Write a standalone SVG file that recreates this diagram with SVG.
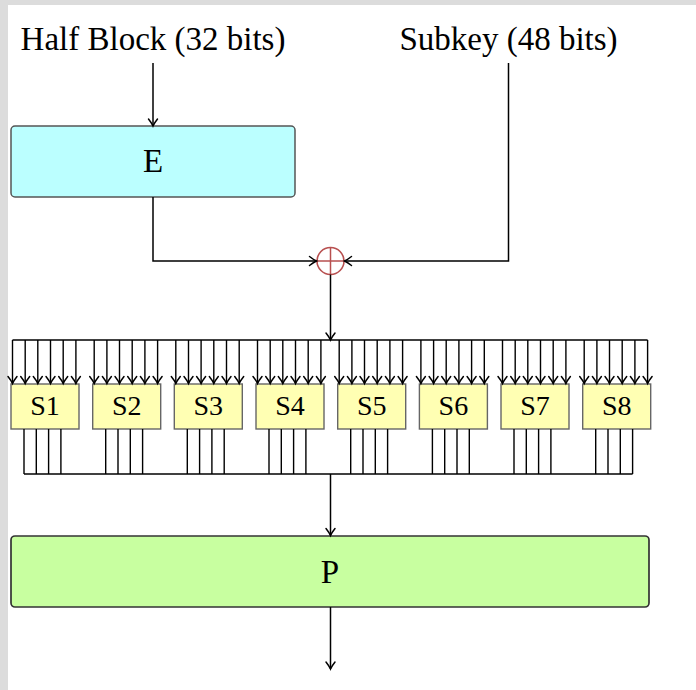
<svg xmlns="http://www.w3.org/2000/svg" width="696" height="690" viewBox="0 0 696 690">
<defs>
<style>
.t{font-family:"Liberation Serif","Times New Roman",serif;fill:#000;text-anchor:middle}
.big{font-size:33px}
.sm{font-size:28px}
.b{stroke:#000;stroke-width:1.4;fill:none}
.a{stroke:#000;stroke-width:1.4;fill:none;marker-end:url(#ah)}
.A{stroke:#000;stroke-width:1.5;fill:none;marker-end:url(#ah)}
.sbox{fill:#ffffb3;stroke:#666;stroke-width:1.4}
</style>
<marker id="ah" markerUnits="userSpaceOnUse" markerWidth="14" markerHeight="14" viewBox="-9 -7 11 14" refX="0" refY="0" orient="auto">
<path d="M-7,-4.5 Q-2.8,-1.2 0,0 Q-2.8,1.2 -7,4.5" fill="none" stroke="#000" stroke-width="1.5" stroke-linecap="round"/>
</marker>
</defs>
<rect x="0" y="0" width="696" height="690" fill="#dcdcdc"/>
<rect x="8" y="5" width="688" height="685" fill="#fff"/>

<g id="label-half-block"><text class="t big" x="153" y="50">Half Block (32 bits)</text></g>
<g id="label-subkey"><text class="t big" x="508.5" y="50">Subkey (48 bits)</text></g>

<g id="E"><rect x="11" y="126" width="284" height="71" rx="4" fill="#bbffff" stroke="#555" stroke-width="1.5"/><text class="t big" x="153" y="172">E</text></g>

<g id="xor"><circle cx="330.5" cy="261" r="13.5" fill="#fff" stroke="#b85050" stroke-width="1.6"/><path d="M317,261H344M330.5,247.5V274.5" stroke="#b85050" stroke-width="1.5"/></g>

<g id="S1"><rect class="sbox" x="11" y="384" width="68" height="45"/><text class="t sm" x="45" y="414.5">S1</text></g>
<g id="S2"><rect class="sbox" x="92.7" y="384" width="68" height="45"/><text class="t sm" x="126.7" y="414.5">S2</text></g>
<g id="S3"><rect class="sbox" x="174.3" y="384" width="68" height="45"/><text class="t sm" x="208.3" y="414.5">S3</text></g>
<g id="S4"><rect class="sbox" x="256" y="384" width="68" height="45"/><text class="t sm" x="290" y="414.5">S4</text></g>
<g id="S5"><rect class="sbox" x="337.7" y="384" width="68" height="45"/><text class="t sm" x="371.7" y="414.5">S5</text></g>
<g id="S6"><rect class="sbox" x="419.4" y="384" width="68" height="45"/><text class="t sm" x="453.4" y="414.5">S6</text></g>
<g id="S7"><rect class="sbox" x="501" y="384" width="68" height="45"/><text class="t sm" x="535" y="414.5">S7</text></g>
<g id="S8"><rect class="sbox" x="582.7" y="384" width="68" height="45"/><text class="t sm" x="616.7" y="414.5">S8</text></g>

<g id="P"><rect x="11" y="536" width="638" height="71" rx="4" fill="#c8ffa0" stroke="#333" stroke-width="1.7"/><text class="t big" x="330" y="583">P</text></g>

<g id="connectors">
<path class="A" d="M153,63V126"/>
<path class="A" d="M153,197V261H316.5"/>
<path class="A" d="M508.5,63V261H344.5"/>
<path class="A" d="M330.5,274.5V340"/>
<path class="b" d="M12.5,340H647.6"/>
<line class="a" x1="12.5" y1="340" x2="12.5" y2="383.5"/><line class="a" x1="25.2" y1="340" x2="25.2" y2="383.5"/><line class="a" x1="37.8" y1="340" x2="37.8" y2="383.5"/><line class="a" x1="50.5" y1="340" x2="50.5" y2="383.5"/><line class="a" x1="63.2" y1="340" x2="63.2" y2="383.5"/><line class="a" x1="75.9" y1="340" x2="75.9" y2="383.5"/>
<line class="a" x1="94.2" y1="340" x2="94.2" y2="383.5"/><line class="a" x1="106.9" y1="340" x2="106.9" y2="383.5"/><line class="a" x1="119.5" y1="340" x2="119.5" y2="383.5"/><line class="a" x1="132.2" y1="340" x2="132.2" y2="383.5"/><line class="a" x1="144.9" y1="340" x2="144.9" y2="383.5"/><line class="a" x1="157.6" y1="340" x2="157.6" y2="383.5"/>
<line class="a" x1="175.8" y1="340" x2="175.8" y2="383.5"/><line class="a" x1="188.5" y1="340" x2="188.5" y2="383.5"/><line class="a" x1="201.1" y1="340" x2="201.1" y2="383.5"/><line class="a" x1="213.8" y1="340" x2="213.8" y2="383.5"/><line class="a" x1="226.5" y1="340" x2="226.5" y2="383.5"/><line class="a" x1="239.2" y1="340" x2="239.2" y2="383.5"/>
<line class="a" x1="257.5" y1="340" x2="257.5" y2="383.5"/><line class="a" x1="270.2" y1="340" x2="270.2" y2="383.5"/><line class="a" x1="282.8" y1="340" x2="282.8" y2="383.5"/><line class="a" x1="295.5" y1="340" x2="295.5" y2="383.5"/><line class="a" x1="308.2" y1="340" x2="308.2" y2="383.5"/><line class="a" x1="320.9" y1="340" x2="320.9" y2="383.5"/>
<line class="a" x1="339.2" y1="340" x2="339.2" y2="383.5"/><line class="a" x1="351.9" y1="340" x2="351.9" y2="383.5"/><line class="a" x1="364.5" y1="340" x2="364.5" y2="383.5"/><line class="a" x1="377.2" y1="340" x2="377.2" y2="383.5"/><line class="a" x1="389.9" y1="340" x2="389.9" y2="383.5"/><line class="a" x1="402.6" y1="340" x2="402.6" y2="383.5"/>
<line class="a" x1="420.9" y1="340" x2="420.9" y2="383.5"/><line class="a" x1="433.6" y1="340" x2="433.6" y2="383.5"/><line class="a" x1="446.2" y1="340" x2="446.2" y2="383.5"/><line class="a" x1="458.9" y1="340" x2="458.9" y2="383.5"/><line class="a" x1="471.6" y1="340" x2="471.6" y2="383.5"/><line class="a" x1="484.3" y1="340" x2="484.3" y2="383.5"/>
<line class="a" x1="502.5" y1="340" x2="502.5" y2="383.5"/><line class="a" x1="515.2" y1="340" x2="515.2" y2="383.5"/><line class="a" x1="527.8" y1="340" x2="527.8" y2="383.5"/><line class="a" x1="540.5" y1="340" x2="540.5" y2="383.5"/><line class="a" x1="553.2" y1="340" x2="553.2" y2="383.5"/><line class="a" x1="565.9" y1="340" x2="565.9" y2="383.5"/>
<line class="a" x1="584.2" y1="340" x2="584.2" y2="383.5"/><line class="a" x1="596.9" y1="340" x2="596.9" y2="383.5"/><line class="a" x1="609.5" y1="340" x2="609.5" y2="383.5"/><line class="a" x1="622.2" y1="340" x2="622.2" y2="383.5"/><line class="a" x1="634.9" y1="340" x2="634.9" y2="383.5"/><line class="a" x1="647.6" y1="340" x2="647.6" y2="383.5"/>
<path class="b" d="M24,429V474M36.3,429V474M48.6,429V474M60.9,429V474M105.7,429V474M118,429V474M130.3,429V474M142.6,429V474M187.3,429V474M199.6,429V474M211.9,429V474M224.2,429V474M269,429V474M281.3,429V474M293.6,429V474M305.9,429V474M350.7,429V474M363,429V474M375.3,429V474M387.6,429V474M432.4,429V474M444.7,429V474M457,429V474M469.3,429V474M514,429V474M526.3,429V474M538.6,429V474M550.9,429V474M595.7,429V474M608,429V474M620.3,429V474M632.6,429V474"/>
<path class="b" d="M24,474H632.6"/>
<path class="A" d="M330.5,474V535.5"/>
<path class="A" d="M330.5,607V669"/>
</g>
</svg>
